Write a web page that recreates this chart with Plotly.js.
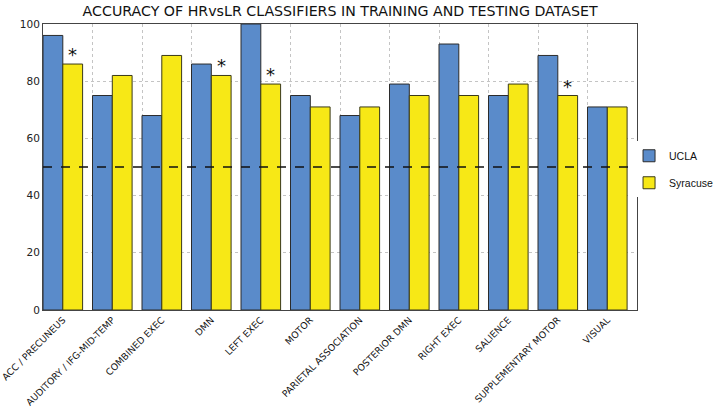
<!DOCTYPE html>
<html>
<head>
<meta charset="utf-8">
<script src="https://cdn.plot.ly/plotly-3.0.1.min.js"></script>
<style>
  body { margin: 0; background: #fff; }
  #plot { width: 713px; height: 413px; }
</style>
</head>
<body>
<div id="plot"></div>
<script>
// Networks (x categories)
let networks = [
  "ACC / PRECUNEUS", "AUDITORY / IFG-MID-TEMP", "COMBINED EXEC", "DMN",
  "LEFT EXEC", "MOTOR", "PARIETAL ASSOCIATION", "POSTERIOR DMN",
  "RIGHT EXEC", "SALIENCE", "SUPPLEMENTARY MOTOR", "VISUAL"
]

// Accuracy (%) per dataset
let ucla = [96, 75, 68, 86, 100, 75, 68, 79, 93, 75, 89, 71]
let syracuse = [86, 82, 89, 82, 79, 71, 71, 75, 75, 79, 75, 71]

// Syracuse bars marked with an asterisk
let starred = [true, false, false, true, true, false, false, false, false, false, true, false]

// Chance level line
let chance = 50

let trace1 = {
  x: networks,
  y: ucla,
  name: "UCLA",
  type: "bar",
  legendgroup: "ucla",
  marker: { color: "#5a8bca", line: { color: "#2b2b2b", width: 1 } },
  hoverinfo: "y"
}

let trace2 = {
  x: networks,
  y: syracuse,
  name: "Syracuse",
  type: "bar",
  legendgroup: "syr",
  marker: { color: "#f7e816", line: { color: "#3a3a1a", width: 1 } },
  hoverinfo: "y"
}

// invisible trace so the overlay axis (group-edge grid) gets drawn
let gridTrace = {
  x: [-0.4, 11.6],
  y: [0, 0],
  xaxis: "x2",
  mode: "markers",
  marker: { opacity: 0 },
  showlegend: false,
  hoverinfo: "skip"
}

// asterisks over the significant Syracuse bars
let stars = []
for (let i in networks) {
  if (starred[i]) {
    stars.push({
      x: networks[i],
      y: syracuse[i],
      xshift: 10,
      yshift: -3,
      yanchor: "bottom",
      text: "*",
      showarrow: false,
      font: { size: 18, color: "#111" }
    })
  }
}

let layout = {
  title: {
    text: "ACCURACY OF HRvsLR CLASSIFIERS IN TRAINING AND TESTING DATASET",
    font: { family: "DejaVu Sans", size: 14.2, color: "#111" },
    x: 0.477, xanchor: "center", y: 0.985, yanchor: "top"
  },
  font: { family: "DejaVu Sans", color: "#222" },
  width: 713,
  height: 413,
  margin: { l: 43, r: 76, t: 24, b: 103, autoexpand: false },
  paper_bgcolor: "#fff",
  plot_bgcolor: "#fff",
  barmode: "group",
  bargap: 0.2,
  bargroupgap: 0,
  xaxis: {
    type: "category",
    range: [-0.4, 11.6],
    tickangle: -45,
    tickfont: { size: 9.3, color: "#111" },
    showgrid: false,
    showline: true,
    linecolor: "#444",
    mirror: true,
    ticks: "",
    automargin: false
  },
  xaxis2: {
    overlaying: "x",
    range: [-0.4, 11.6],
    tick0: -0.4,
    dtick: 1,
    showticklabels: false,
    showgrid: true,
    gridcolor: "#c4c4c4",
    griddash: "dot",
    ticks: "",
    zeroline: false
  },
  yaxis: {
    range: [0, 100],
    dtick: 20,
    tickfont: { size: 10.5, color: "#222" },
    showgrid: true,
    gridcolor: "#c4c4c4",
    griddash: "dot",
    showline: true,
    linecolor: "#444",
    mirror: true,
    zeroline: false,
    ticks: "",
    automargin: false
  },
  shapes: [{
    type: "line",
    xref: "paper", x0: 0, x1: 1,
    yref: "y", y0: chance, y1: chance,
    line: { color: "#111", width: 1.5, dash: "dash" }
  }],
  annotations: stars,
  legend: {
    x: 0.9866, xanchor: "left",
    y: 0.59, yanchor: "top",
    font: { family: "Liberation Sans", size: 10.5, color: "#111" },
    tracegroupgap: 8,
    itemwidth: 30
  }
}

Plotly.newPlot("plot", [trace1, trace2, gridTrace], layout, { displayModeBar: false })
</script>
</body>
</html>
